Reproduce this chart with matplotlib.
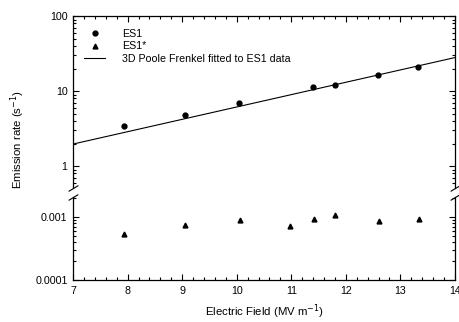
import matplotlib
matplotlib.use('Agg')
import matplotlib.pyplot as plt
from matplotlib.ticker import LogLocator, FixedLocator, FixedFormatter, MultipleLocator, NullFormatter

plt.rcParams['font.family'] = ['Liberation Sans', 'DejaVu Sans']
plt.rcParams['font.size'] = 7.7

# ES1 emission rates (upper panel)
es1_field = [7.93, 9.06, 10.05, 11.39, 11.81, 12.59, 13.33]
es1_rate = [3.4, 4.85, 7.0, 11.2, 12.0, 16.3, 21.1]

# ES1* emission rates (lower panel)
es1s_field = [7.93, 9.06, 10.06, 10.97, 11.41, 11.81, 12.60, 13.34]
es1s_rate = [0.00054, 0.00075, 0.00090, 0.00073, 0.00093, 0.00108, 0.00086, 0.00093]

# 3D Poole Frenkel fit, end points
fit_field = [7.0, 14.0]
fit_rate = [1.97, 28.0]

fig = plt.figure(figsize=(4.6, 3.22), dpi=100)
ax_top = fig.add_axes([0.159, 0.416, 0.830, 0.534])
ax_bot = fig.add_axes([0.159, 0.1304, 0.830, 0.258])

ax_top.plot(es1_field, es1_rate, 'o', color='black', markersize=3.5, label='ES1')
ax_top.plot([], [], '^', color='black', markersize=3.5, label='ES1*')
ax_top.plot(fit_field, fit_rate, '-', color='black', linewidth=0.8,
            label='3D Poole Frenkel fitted to ES1 data')
ax_bot.plot(es1s_field, es1s_rate, '^', color='black', markersize=3.5)

ax_top.set_yscale('log')
ax_bot.set_yscale('log')
ax_top.set_ylim(0.51, 100)
ax_bot.set_ylim(0.0001, 0.00208)
for ax in (ax_top, ax_bot):
    ax.set_xlim(7, 14)
    ax.xaxis.set_major_locator(MultipleLocator(1))
    ax.xaxis.set_minor_locator(MultipleLocator(0.2))
    ax.tick_params(which='both', direction='in', top=True, right=True, width=0.8,
                   labelsize=7.7)
    ax.tick_params(which='major', length=4, pad=4)
    ax.tick_params(which='minor', length=2)
    for sp in ax.spines.values():
        sp.set_linewidth(0.9)

ax_top.yaxis.set_major_locator(FixedLocator([1, 10, 100]))
ax_top.yaxis.set_major_formatter(FixedFormatter(['1', '10', '100']))
ax_top.yaxis.set_minor_locator(LogLocator(base=10, subs=range(2, 10)))
ax_top.yaxis.set_minor_formatter(NullFormatter())
ax_bot.yaxis.set_major_locator(FixedLocator([0.0001, 0.001]))
ax_bot.yaxis.set_major_formatter(FixedFormatter(['0.0001', '0.001']))
ax_bot.yaxis.set_minor_locator(LogLocator(base=10, subs=range(2, 10)))
ax_bot.yaxis.set_minor_formatter(NullFormatter())

ax_top.spines['bottom'].set_visible(False)
ax_bot.spines['top'].set_visible(False)
ax_top.tick_params(which='both', bottom=False, labelbottom=False)
ax_bot.tick_params(which='both', top=False)

# break marks
d = 0.6
kw = dict(marker=[(-1, -d), (1, d)], markersize=7, linestyle='none',
          color='k', mec='k', mew=0.8, clip_on=False)
ax_top.plot([0, 1], [0, 0], transform=ax_top.transAxes, **kw)
ax_bot.plot([0, 1], [1, 1], transform=ax_bot.transAxes, **kw)

ax_top.legend(loc='upper left', frameon=False, fontsize=7.7, handlelength=1.9,
              handletextpad=1.6, borderaxespad=0.3, labelspacing=0.25,
              bbox_to_anchor=(0.01, 0.97))

ax_bot.set_xlabel('Electric Field (MV m$^{-1}$)', fontsize=8.2, labelpad=5)
fig.text(0.039, 0.565, 'Emission rate (s$^{-1}$)', rotation=90, va='center', ha='center',
         fontsize=8.2)

fig.savefig('out.png', dpi=100)
